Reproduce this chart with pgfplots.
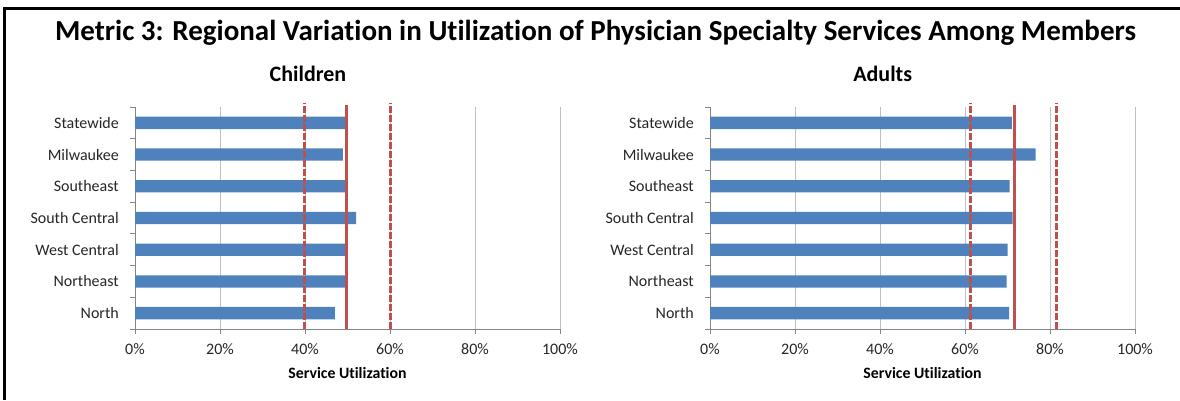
\documentclass[border=0pt]{standalone}
\usepackage{fontspec}
\setmainfont[Ligatures=NoCommon]{Carlito}
\usepackage{pgfplots}
\usepackage{pgfplotstable}
\pgfplotsset{compat=1.18}

\definecolor{barblue}{HTML}{4F81BD}
\definecolor{refred}{HTML}{C0504D}
\definecolor{gridgray}{HTML}{BFBFBF}
\definecolor{axisgray}{HTML}{868686}

% Service utilization (%) by region; y = 0 is North, y = 6 is Statewide
\pgfplotstableread{
y value
0 47.0
1 49.5
2 49.5
3 52.0
4 49.5
5 48.9
6 49.6
}\childrentable

\pgfplotstableread{
y value
0 70.4
1 69.8
2 70.0
3 71.2
4 70.5
5 76.6
6 71.0
}\adultstable

\pgfplotsset{
  regionbars/.style={
    scale only axis, width=425bp, height=222bp,
    xmin=0, xmax=100, ymin=-0.5, ymax=6.5,
    clip=false,
    axis x line*=bottom, axis y line*=left,
    axis line style={axisgray, line width=1bp},
    tick align=outside,
    major tick length=5bp, minor tick length=5bp,
    xtick={0,20,40,60,80,100},
    xticklabels={0\%,20\%,40\%,60\%,80\%,100\%},
    xmajorgrids, grid style={gridgray, line width=1bp},
    major x tick style={axisgray, line width=1bp},
    ytick={0,...,6},
    yticklabels={North,Northeast,West Central,South Central,Southeast,Milwaukee,Statewide},
    major y tick style={draw=none},
    minor ytick={-0.5,0.5,...,6.5},
    minor y tick style={axisgray, line width=1bp},
    ticklabel style={font=\fontsize{16bp}{19bp}\selectfont, text=black!85},
    yticklabel style={anchor=east, inner sep=0pt, xshift=-11bp},
    xticklabel style={anchor=base, inner sep=0pt, yshift=-20bp},
    xlabel={Service Utilization},
    xlabel style={at={(axis description cs:0.5,0)}, anchor=base, inner sep=0pt,
      yshift=-49.5bp, font=\fontsize{15.8bp}{18bp}\bfseries\selectfont},
  },
  refsolid/.style={refred, line width=3bp},
  refdash/.style={refred, line width=3bp, dash pattern=on 7bp off 2bp},
}

\begin{document}
\begin{tikzpicture}[x=1bp, y=1bp]
\useasboundingbox (0,0) rectangle (1180,400);
\draw[line width=2.7bp] (4.7,0) -- (4.7,391.3) -- (1180,391.3);

\node[anchor=base, inner sep=0pt, font=\fontsize{29bp}{33bp}\bfseries\selectfont]
  at (595.5,360) {Metric 3: Regional Variation in Utilization of Physician Specialty Services Among Members};
\node[anchor=base, inner sep=0pt, font=\fontsize{22bp}{26bp}\bfseries\selectfont]
  at (308,318.3) {Children};
\node[anchor=base, inner sep=0pt, font=\fontsize{22bp}{26bp}\bfseries\selectfont]
  at (882.7,319) {Adults};

% Children
\begin{axis}[regionbars, at={(135bp,71bp)}, anchor=south west]
  \addplot[xbar, bar width=12.3bp, bar shift=0pt, fill=barblue, draw=none]
    table[x=value, y=y] {\childrentable};
  \addplot[refdash] coordinates {(39.8,-0.5) (39.8,6.64)};
  \addplot[refsolid] coordinates {(49.8,-0.5) (49.8,6.56)};
  \addplot[refdash] coordinates {(60.0,-0.5) (60.0,6.64)};
\end{axis}

% Adults
\begin{axis}[regionbars, at={(710bp,71bp)}, anchor=south west]
  \addplot[xbar, bar width=12.3bp, bar shift=0pt, fill=barblue, draw=none]
    table[x=value, y=y] {\adultstable};
  \addplot[refdash] coordinates {(61.4,-0.5) (61.4,6.64)};
  \addplot[refsolid] coordinates {(71.6,-0.5) (71.6,6.56)};
  \addplot[refdash] coordinates {(81.6,-0.5) (81.6,6.64)};
\end{axis}
\end{tikzpicture}
\end{document}
